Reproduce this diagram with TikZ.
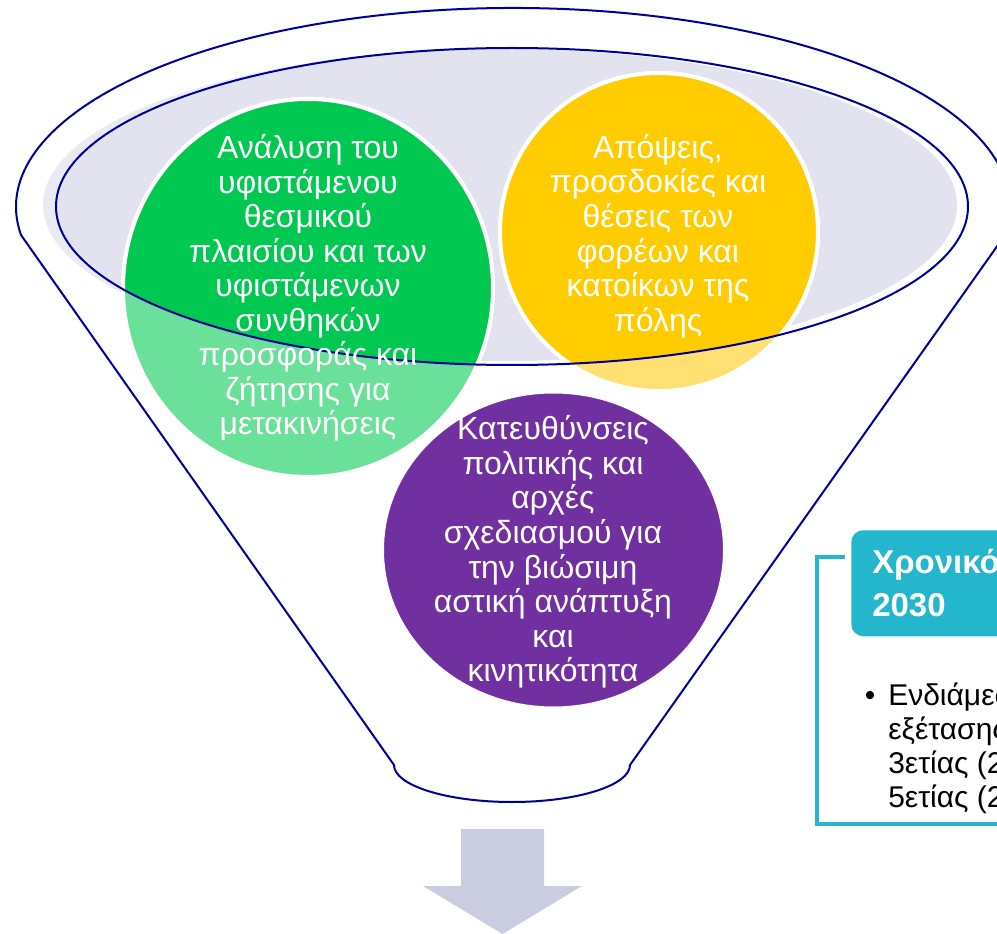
\documentclass[tikz,border=0pt]{standalone}
\usepackage{fontspec}
\setmainfont{Liberation Sans}
\usepackage{tikz}
\definecolor{funnelblue}{RGB}{0,0,150}
\definecolor{rimgray}{RGB}{234,234,243}
\definecolor{topgray}{RGB}{226,227,238}
\definecolor{leafgreen}{RGB}{0,200,80}
\definecolor{leafgreenlt}{RGB}{106,224,154}
\definecolor{sunyellow}{RGB}{255,204,0}
\definecolor{sunyellowlt}{RGB}{255,224,112}
\definecolor{plum}{RGB}{112,48,160}
\definecolor{horizonteal}{RGB}{35,182,204}
\definecolor{arrowgray}{RGB}{202,204,223}

\begin{document}
\begin{tikzpicture}[x=0.75pt,y=-0.75pt,
  bubbletext/.style={text=white,align=center,inner sep=0pt,font=\fontsize{24}{25.9}\selectfont},
  rim/.style={draw=funnelblue,line width=1.5pt}]
  \useasboundingbox (0,0) rectangle (997,934);
  \clip (0,0) rectangle (997,934);
  \fill[rimgray] (500,205) ellipse [x radius=457,y radius=156];
  \begin{scope}
    \clip (512,206.5) ellipse [x radius=456,y radius=158.5];
    \fill[topgray] (500,205) ellipse [x radius=457,y radius=156];
  \end{scope}
  \filldraw[fill=leafgreenlt,draw=white,line width=3pt] (308,288) ellipse [x radius=185,y radius=189];
  \filldraw[fill=sunyellowlt,draw=white,line width=3pt] (659,232) ellipse [x radius=159,y radius=159];
  \begin{scope}
    \clip (512,206.5) ellipse [x radius=456,y radius=158.5];
    \filldraw[fill=leafgreen,draw=white,line width=3pt] (308,288) ellipse [x radius=185,y radius=189];
    \filldraw[fill=sunyellow,draw=white,line width=3pt] (659,232) ellipse [x radius=159,y radius=159];
  \end{scope}
  \filldraw[fill=plum,draw=white,line width=0.75pt] (553.5,550) ellipse [x radius=170,y radius=157];
  \draw[rim] (21,235) arc[start angle=171.9,end angle=368.1,x radius=497,y radius=199]
    -- (630,765) arc[start angle=0,end angle=180,x radius=118,y radius=37] -- cycle;
  \draw[rim] (512,206.5) ellipse [x radius=456,y radius=158.5];

  \node[bubbletext] (analysis) at (308,288) {Ανάλυση του\\υφιστάμενου\\θεσμικού\\πλαισίου και των\\υφιστάμενων\\συνθηκών\\προσφοράς και\\ζήτησης για\\μετακινήσεις};
  \node[bubbletext] (views) at (658,236) {Απόψεις,\\προσδοκίες και\\θέσεις των\\φορέων και\\κατοίκων της\\πόλης};
  \node[bubbletext] (policy) at (553,552) {Κατευθύνσεις\\πολιτικής και\\αρχές\\σχεδιασμού για\\την βιώσιμη\\αστική ανάπτυξη\\και\\κινητικότητα};

  \fill[arrowgray] (461,829) -- (544,829) -- (544,886) -- (582,886) -- (502.5,934) -- (423,886) -- (461,886) -- cycle;

  \draw[horizonteal,line width=3pt] (845,557) -- (817,557) -- (817,824) -- (1000,824);
  \node[anchor=north west,fill=horizonteal,rounded corners=9pt,text=white,align=left,
    minimum height=79.5pt,inner xsep=15.75pt,text width=320pt,
    font=\bfseries\fontsize{24.75}{32}\selectfont] (horizon) at (851,530) {Χρονικός ορίζοντας\\2030};
  \node[anchor=base,font=\fontsize{22.5}{25.5}\selectfont,inner sep=0pt] (dot) at (870,705) {•};
  \node[anchor=north west,align=left,inner sep=0pt,font=\fontsize{22.5}{25.5}\selectfont] (interim) at (888,683) {Ενδιάμεσες\\εξέτασης\\3ετίας (2023)\\5ετίας (2025)};
\end{tikzpicture}
\end{document}
